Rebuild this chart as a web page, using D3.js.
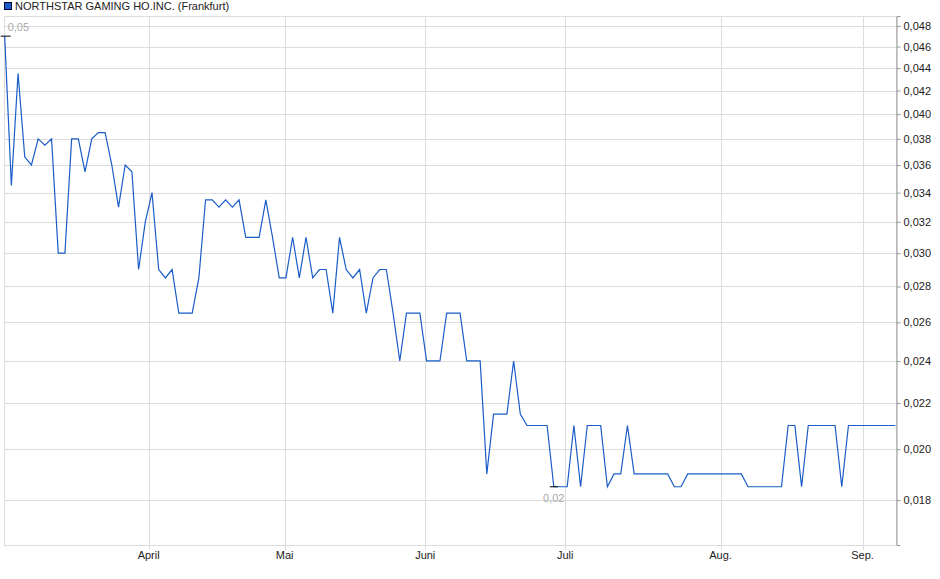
<!DOCTYPE html>
<html><head><meta charset="utf-8">
<script src="https://cdn.jsdelivr.net/npm/d3@7"></script>
<style>body{margin:0;background:#fff}text{font-family:"Liberation Sans",Arial,sans-serif}</style>
</head><body><svg id="c" width="940" height="579"></svg>
<script>
const title = "NORTHSTAR GAMING HO.INC. (Frankfurt)";
const prices = [0.047,0.0345,0.0435,0.0366,0.036,0.038,0.0375,0.038,0.030,0.030,
0.038,0.038,0.0355,0.038,0.0385,0.0385,0.036,0.033,0.036,0.0355,
0.029,0.032,0.034,0.029,0.0285,0.029,0.0265,0.0265,0.0265,0.0285,
0.0335,0.0335,0.033,0.0335,0.033,0.0335,0.031,0.031,0.031,0.0335,
0.031,0.0285,0.0285,0.031,0.0285,0.031,0.0285,0.029,0.029,0.0265,
0.031,0.029,0.0285,0.029,0.0265,0.0285,0.029,0.029,0.0265,0.024,
0.0265,0.0265,0.0265,0.024,0.024,0.024,0.0265,0.0265,0.0265,0.024,
0.024,0.024,0.019,0.0215,0.0215,0.0215,0.024,0.0215,0.021,0.021,
0.021,0.021,0.0185,0.0185,0.0185,0.021,0.0185,0.021,0.021,0.021,
0.0185,0.019,0.019,0.021,0.019,0.019,0.019,0.019,0.019,0.019,
0.0185,0.0185,0.019,0.019,0.019,0.019,0.019,0.019,0.019,0.019,
0.019,0.0185,0.0185,0.0185,0.0185,0.0185,0.0185,0.021,0.021,0.0185,
0.021,0.021,0.021,0.021,0.021,0.0185,0.021,0.021,0.021,0.021,
0.021,0.021,0.021,0.021];
const monthLabels = ["April","Mai","Juni","Juli","Aug.","Sep."];
const monthIdx = [21.5,41.8,62.8,83.7,106.9,128.1];
const yTicks = [0.018,0.020,0.022,0.024,0.026,0.028,0.030,0.032,0.034,0.036,0.038,0.040,0.042,0.044,0.046,0.048];

const L=4,R=896,T=16,B=545;
const svg=d3.select("#c");
const x=d3.scaleLinear().domain([-0.1,133.1]).range([L,R]);
const y=d3.scaleLog().domain([0.0164,0.049]).range([B,T]);
const fmt=v=>d3.format(".3f")(v).replace(".",",");
const g="#dcdcdc";
// grid
svg.append("g").selectAll("line").data(yTicks).join("line")
 .attr("x1",L).attr("x2",R).attr("y1",d=>Math.round(y(d))+0.5).attr("y2",d=>Math.round(y(d))+0.5).attr("stroke",g);
svg.append("g").selectAll("line").data(monthIdx).join("line")
 .attr("x1",d=>Math.round(x(d))+0.5).attr("x2",d=>Math.round(x(d))+0.5).attr("y1",T).attr("y2",B+5).attr("stroke",g);
svg.append("rect").attr("x",L+0.5).attr("y",T+0.5).attr("width",R-L).attr("height",B-T).attr("fill","none").attr("stroke",g);
// right axis
const ya=svg.append("g").attr("transform",`translate(${R+0.5},0)`).call(d3.axisRight(y).tickValues(yTicks).tickFormat(fmt).tickSize(4));
ya.select(".domain").attr("stroke","#999");
ya.selectAll(".tick line").attr("stroke","#999");
ya.selectAll("text").attr("font-size",11).attr("fill","#222").attr("font-family","Liberation Sans, Arial");
// month labels
svg.append("g").selectAll("text").data(monthLabels).join("text")
 .attr("x",(d,i)=>x(monthIdx[i])).attr("y",B+14).attr("text-anchor","middle").attr("font-size",11).attr("fill","#222").text(d=>d);
// line
svg.append("path").datum(prices).attr("fill","none").attr("stroke","#1a5cc8").attr("stroke-width",1.2)
 .attr("d",d3.line().x((d,i)=>x(i)).y(d=>y(d)));
// max / min markers
const maxI=d3.maxIndex(prices), minI=d3.minIndex(prices);
svg.append("line").attr("x1",x(maxI)-4).attr("x2",x(maxI)+6).attr("y1",y(prices[maxI])).attr("y2",y(prices[maxI])).attr("stroke","#000");
svg.append("text").attr("x",x(maxI)+3).attr("y",y(prices[maxI])-5).attr("font-size",11).attr("fill","#aaa").text(d3.format(".2f")(prices[maxI]).replace(".",","));
svg.append("line").attr("x1",x(minI)-4).attr("x2",x(minI)+4).attr("y1",y(prices[minI])).attr("y2",y(prices[minI])).attr("stroke","#000");
svg.append("text").attr("x",x(minI)).attr("y",y(prices[minI])+15).attr("text-anchor","middle").attr("font-size",11).attr("fill","#aaa").text(d3.format(".2f")(prices[minI]).replace(".",","));
// legend
svg.append("rect").attr("x",4.5).attr("y",2.5).attr("width",7).attr("height",7).attr("fill","#1a5cc8").attr("stroke","#003");
svg.append("text").attr("x",15).attr("y",10).attr("font-size",11).attr("fill","#222").text(title);
</script></body></html>
